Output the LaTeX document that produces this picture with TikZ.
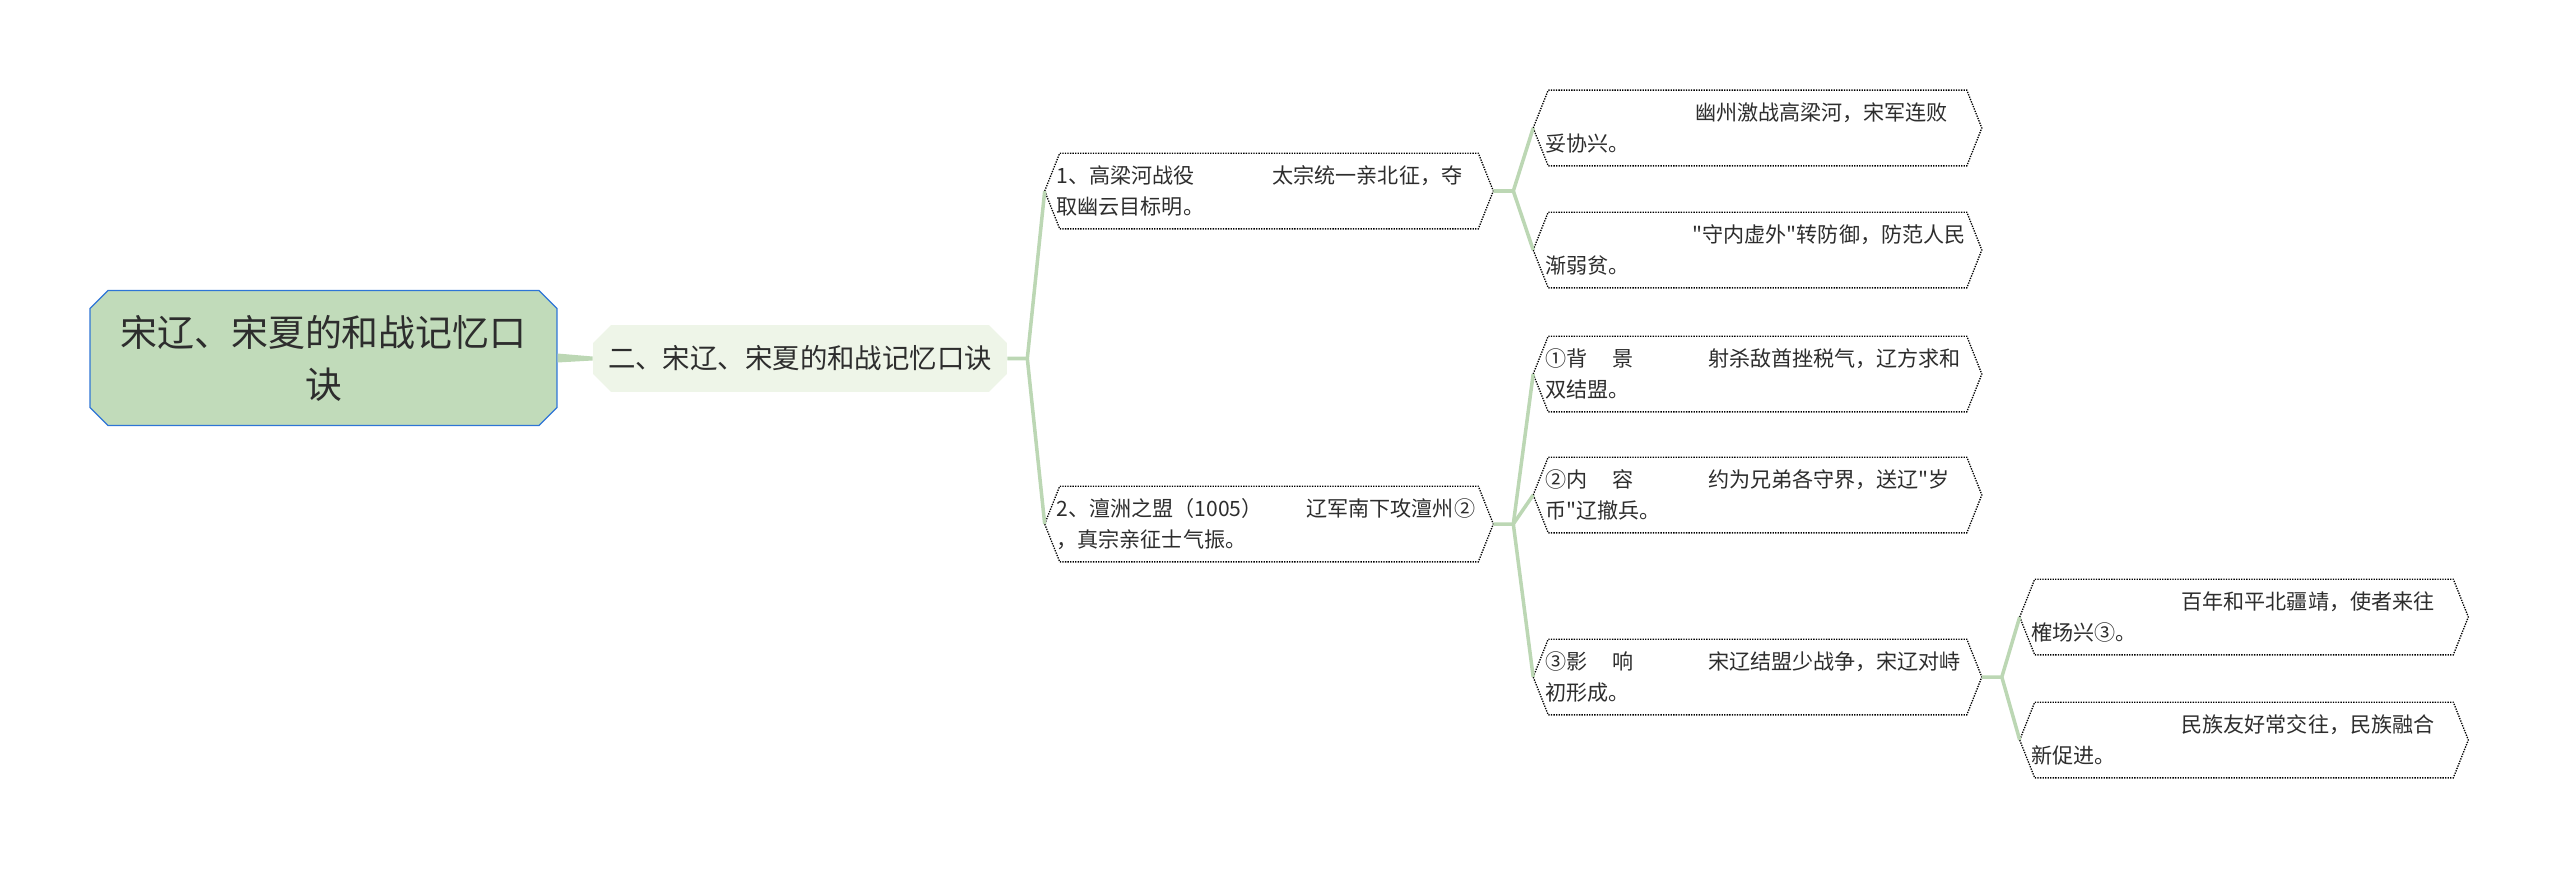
\documentclass[tikz,border=0pt]{standalone}
\usepackage{fontspec}
\setmainfont{Noto Sans CJK SC}[Ligatures=TeXOff]
\usetikzlibrary{shapes.misc}
\definecolor{ast}{RGB}{188,215,180}
\definecolor{wurzelgruen}{RGB}{193,219,186}
\definecolor{wurzelblau}{RGB}{46,117,214}
\definecolor{hauptgruen}{RGB}{238,245,232}
\definecolor{schrift}{RGB}{45,45,45}

\begin{document}
\begin{tikzpicture}[x=0.02cm, y=-0.02cm,
    knoten/.style={minimum width=8.96cm, minimum height=1.5cm, text width=8.5cm, inner xsep=0.23cm, inner ysep=0pt, align=left, text=schrift, font=\fontsize{12}{17.6}\selectfont},
    rand/.style={draw=black, line width=0.75pt, dash pattern=on 0.75pt off 0.7pt},
    zweig/.style={draw=ast, line width=2pt, line join=round},
    eckig/.style={chamfered rectangle, chamfered rectangle xsep=0.18cm, chamfered rectangle ysep=0.18cm, inner sep=0pt, align=center, text=schrift}]

    \useasboundingbox (0,0) rectangle (2560,869);

    \node[eckig, fill=wurzelgruen, draw=wurzelblau, line width=0.7pt, minimum width=9.34cm, minimum height=2.7cm, font=\fontsize{21}{29.6}\selectfont] (wurzel) at (323.5,358) {宋辽、宋夏的和战记忆口\\诀};
    \node[eckig, fill=hauptgruen, minimum width=8.28cm, minimum height=1.34cm, font=\fontsize{15.6}{18}\selectfont] (haupt) at (800,358.5) {二、宋辽、宋夏的和战记忆口诀};

    \fill[ast] ([yshift=0.09cm]wurzel.east) -- ([yshift=0.04cm]haupt.west) -- ([yshift=-0.04cm]haupt.west) -- ([yshift=-0.09cm]wurzel.east) -- cycle;

    % zweite Ebene
    \node[knoten] (gaoliang) at (1269,191) {\makebox[4.32cm][l]{1、高梁河战役}太宗统一亲北征，夺\\取幽云目标明。};
    \node[knoten] (chanyuan) at (1269,524) {\makebox[5cm][l]{2、澶洲之盟（1005）}辽军南下攻澶州②\\，真宗亲征士气振。};

    % dritte Ebene
    \node[knoten] (youzhou) at (1757.5,128) {\hspace*{3cm}幽州激战高梁河，宋军连败\\妥协兴。};
    \node[knoten] (shounei) at (1757.5,250) {\hspace*{2.95cm}"守内虚外"转防御，防范人民\\渐弱贫。};
    \node[knoten] (beijing) at (1757.5,374) {\makebox[3.26cm][l]{①背\hspace{0.5cm}景}射杀敌酋挫税气，辽方求和\\双结盟。};
    \node[knoten] (neirong) at (1757.5,495) {\makebox[3.26cm][l]{②内\hspace{0.5cm}容}约为兄弟各守界，送辽"岁\\币"辽撤兵。};
    \node[knoten] (yingxiang) at (1757.5,677) {\makebox[3.26cm][l]{③影\hspace{0.5cm}响}宋辽结盟少战争，宋辽对峙\\初形成。};

    \node[knoten] (bainian) at (2244,617) {\hspace*{3cm}百年和平北疆靖，使者来往\\榷场兴③。};
    \node[knoten] (minzu) at (2244,740) {\hspace*{3cm}民族友好常交往，民族融合\\新促进。};

    \foreach \n in {gaoliang,chanyuan,youzhou,shounei,beijing,neirong,yingxiang,bainian,minzu}{
        \draw[rand] (\n.west) -- ([xshift=0.3cm]\n.north west) -- ([xshift=-0.3cm]\n.north east) -- (\n.east) -- ([xshift=-0.3cm]\n.south east) -- ([xshift=0.3cm]\n.south west) -- cycle;
    }

    \foreach \von/\a/\b in {haupt/gaoliang/chanyuan, gaoliang/youzhou/shounei, yingxiang/bainian/minzu}{
        \draw[zweig] (\von.east) -- ++(0.4cm,0) coordinate (j-\von) -- (\a.west);
        \draw[zweig] (j-\von) -- (\b.west);
    }
    \draw[zweig] (chanyuan.east) -- ++(0.4cm,0) coordinate (j-chanyuan) -- (beijing.west);
    \draw[zweig] (j-chanyuan) -- (neirong.west);
    \draw[zweig] (j-chanyuan) -- (yingxiang.west);

\end{tikzpicture}
\end{document}
